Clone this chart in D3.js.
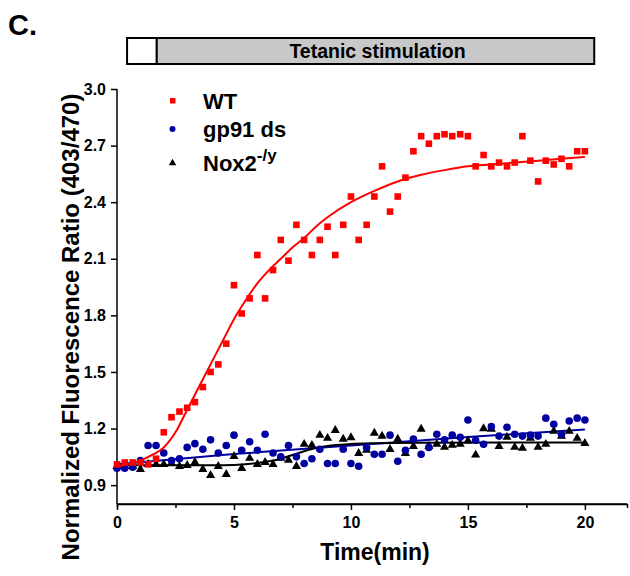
<!DOCTYPE html>
<html>
<head>
<meta charset="utf-8">
<script src="https://cdn.jsdelivr.net/npm/d3@7"></script>
<style>
  body { margin: 0; background: #fff; }
  svg text { font-family: "Liberation Sans", Arial, sans-serif; font-weight: bold; }
</style>
</head>
<body>
<svg id="chart" width="630" height="576"></svg>
<script>
// ---- data ----
const timeMin = [0,0.33,0.67,1,1.33,1.67,2,2.33,2.67,3,3.33,3.67,4,4.33,4.67,5,5.33,5.67,6,6.33,6.67,7,7.33,7.67,8,8.33,8.67,9,9.33,9.67,10,10.33,10.67,11,11.33,11.67,12,12.33,12.67,13,13.33,13.67,14,14.33,14.67,15,15.33,15.67,16,16.33,16.67,17,17.33,17.67,18,18.33,18.67,19,19.33,19.67,20];

const wtValues = [1.01,1.02,1.02,1.02,1.01,1.04,1.18,1.26,1.29,1.31,1.34,1.42,1.50,1.54,1.65,1.96,1.81,1.89,2.12,1.89,2.04,2.20,2.09,2.28,2.20,2.12,2.20,2.27,2.12,2.28,2.43,2.20,2.28,2.43,2.59,2.35,2.43,2.53,2.67,2.75,2.71,2.75,2.76,2.75,2.76,2.75,2.59,2.65,2.59,2.61,2.59,2.61,2.75,2.62,2.51,2.62,2.60,2.63,2.59,2.67,2.67];

const gp91Values = [0.99,0.99,0.995,1.03,1.11,1.11,1.07,1.03,1.04,1.10,1.12,1.09,1.14,1.07,1.11,1.165,1.085,1.13,1.085,1.17,1.07,1.05,1.11,1.05,1.015,1.04,1.09,1.015,1.015,1.09,1.015,1.0,1.10,1.064,1.064,1.165,1.027,1.085,1.144,1.064,1.10,1.17,1.14,1.165,1.154,1.245,1.138,1.117,1.21,1.16,1.207,1.17,1.16,1.165,1.16,1.255,1.223,1.17,1.24,1.255,1.245];

const nox2Values = [1.0,1.0,1.0,0.984,1.01,1.01,1.01,1.016,1.0,1.005,1.021,0.984,0.952,1.0,0.957,1.053,0.989,1.043,1.01,1.021,1.01,1.043,1.032,1.0,1.117,1.112,1.165,1.149,1.191,1.144,1.152,1.069,1.085,1.176,1.16,1.09,1.144,1.069,1.106,1.197,1.106,1.117,1.101,1.112,1.117,1.135,1.06,1.2,1.197,1.106,1.154,1.101,1.096,1.149,1.101,1.117,1.186,1.16,1.186,1.149,1.122];

// fitted curves, points [time, value]
const wtFit = [[0,1.00],[1,1.03],[1.5,1.06],[2,1.10],[2.5,1.18],[3,1.30],[3.5,1.42],[4,1.54],[4.5,1.66],[5,1.78],[5.5,1.88],[6,1.97],[6.5,2.04],[7,2.10],[7.5,2.16],[8,2.21],[8.5,2.27],[9,2.32],[10,2.40],[11,2.46],[12,2.51],[13,2.545],[14,2.57],[15,2.59],[16,2.60],[17,2.61],[18,2.62],[19,2.63],[20,2.64]];
const gp91Fit = [[0,1.01],[5,1.065],[10,1.11],[15,1.155],[20,1.195]];
const nox2Fit = [[0,1.005],[4,1.005],[5,1.007],[6,1.017],[7,1.04],[7.5,1.06],[8,1.08],[8.5,1.097],[9,1.108],[10,1.118],[11,1.122],[13,1.125],[20,1.126]];

const xTicks = [0,5,10,15,20];
const xMinorTicks = [2.5,7.5,12.5,17.5];
const yTicks = [0.9,1.2,1.5,1.8,2.1,2.4,2.7,3.0];

const seriesNames = ["WT", "gp91 ds", "Nox2"];
const stimulationLabel = "Tetanic stimulation";
const stimulationStart = 1.7;   // min (end of white box)
const barStart = 0.43, barEnd = 20.4;

// ---- drawing ----
const svg = d3.select("#chart");
const x = d3.scaleLinear().domain([0, 21.8]).range([117, 627]);
const y = d3.scaleLinear().domain([0.8, 3.0]).range([504, 89]);

const RED = "#ff0000", BLUE = "#0000a0", BLACK = "#000000";

// panel label
svg.append("text").attr("x", 8).attr("y", 35).attr("font-size", 29).text("C.");

// stimulation bar
const barTop = 38, barH = 26;
svg.append("rect").attr("x", x(barStart)).attr("y", barTop).attr("width", x(stimulationStart) - x(barStart)).attr("height", barH)
  .attr("fill", "#fff").attr("stroke", "#000").attr("stroke-width", 2);
svg.append("rect").attr("x", x(stimulationStart)).attr("y", barTop).attr("width", x(barEnd) - x(stimulationStart)).attr("height", barH)
  .attr("fill", "#c8c8c8").attr("stroke", "#000").attr("stroke-width", 2);
svg.append("text").attr("x", (x(stimulationStart) + x(barEnd)) / 2 + 2).attr("y", barTop + barH / 2 + 7)
  .attr("text-anchor", "middle").attr("font-size", 19.5).text(stimulationLabel);

// axes
const xAxis = svg.append("g").attr("transform", `translate(0,${y(0.8)})`)
  .call(d3.axisBottom(x).tickValues(xTicks).tickSize(6).tickPadding(7).tickFormat(d3.format("d")));
svg.append("g").attr("transform", `translate(0,${y(0.8)})`)
  .call(d3.axisBottom(x).tickValues(xMinorTicks).tickSize(4).tickFormat(""));
const yAxis = svg.append("g").attr("transform", "translate(117,0)")
  .call(d3.axisLeft(y).tickValues(yTicks).tickSize(6).tickPadding(5).tickFormat(d3.format(".1f")));
svg.selectAll(".domain").attr("stroke", "#000").attr("stroke-width", 1.5);
svg.selectAll(".tick line").attr("stroke", "#000").attr("stroke-width", 1.5);
svg.selectAll(".tick text").attr("font-size", 16).attr("font-family", "Liberation Sans, Arial, sans-serif").attr("font-weight", "bold").attr("fill", "#000");
xAxis.select(".domain").attr("d", `M${x(0)},0H${x(21.8)}`);
yAxis.select(".domain").attr("d", `M0,${y(0.8)}V${y(3.0)}`);

// axis titles
svg.append("text").attr("x", 375).attr("y", 560).attr("text-anchor", "middle").attr("font-size", 23).text("Time(min)");
svg.append("text").attr("transform", "translate(79,327) rotate(-90)").attr("text-anchor", "middle").attr("font-size", 24)
  .text("Normalized Fluorescence Ratio (403/470)");

// fit lines
const line = d3.line().x(d => x(d[0])).y(d => y(d[1])).curve(d3.curveMonotoneX);
svg.append("path").datum(gp91Fit).attr("d", line).attr("fill", "none").attr("stroke", BLUE).attr("stroke-width", 2);
svg.append("path").datum(nox2Fit).attr("d", line).attr("fill", "none").attr("stroke", BLACK).attr("stroke-width", 2);

// points
const tri = d3.symbol().type(d3.symbolTriangle).size(36);
svg.append("g").selectAll("path").data(nox2Values).join("path")
  .attr("transform", (d, i) => `translate(${x(timeMin[i])},${y(d)})`).attr("d", tri).attr("fill", BLACK);
svg.append("g").selectAll("circle").data(gp91Values).join("circle")
  .attr("cx", (d, i) => x(timeMin[i])).attr("cy", d => y(d)).attr("r", 3.8).attr("fill", BLUE);
svg.append("path").datum(wtFit).attr("d", line).attr("fill", "none").attr("stroke", RED).attr("stroke-width", 2);
svg.append("g").selectAll("rect").data(wtValues).join("rect")
  .attr("x", (d, i) => x(timeMin[i]) - 3.3).attr("y", d => y(d) - 3.3).attr("width", 6.6).attr("height", 6.6).attr("fill", RED);

// legend
const lg = svg.append("g");
const legendRows = [
  {name: seriesNames[0], color: RED, kind: "square", yy: 101},
  {name: seriesNames[1], color: BLUE, kind: "circle", yy: 129},
  {name: seriesNames[2], color: BLACK, kind: "triangle", yy: 163}
];
legendRows.forEach(r => {
  if (r.kind === "square") lg.append("rect").attr("x", 170).attr("y", r.yy - 3).attr("width", 5.5).attr("height", 5.5).attr("fill", r.color);
  if (r.kind === "circle") lg.append("circle").attr("cx", 172.5).attr("cy", r.yy).attr("r", 3).attr("fill", r.color);
  if (r.kind === "triangle") lg.append("path").attr("transform", `translate(172.5,${r.yy})`).attr("d", d3.symbol().type(d3.symbolTriangle).size(24)).attr("fill", r.color);
  const t = lg.append("text").attr("x", 203).attr("y", r.yy + 8).attr("font-size", 22).text(r.name);
  if (r.kind === "triangle") t.append("tspan").attr("dy", -10).attr("font-size", 17).text("-/y");
});
</script>
</body>
</html>
